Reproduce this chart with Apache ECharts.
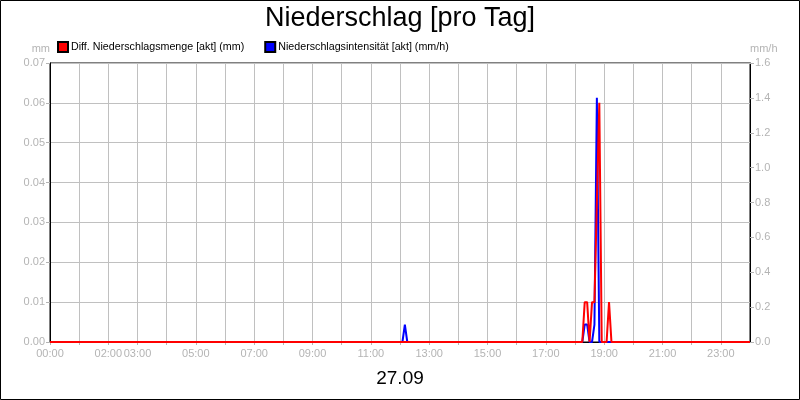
<!DOCTYPE html>
<html>
<head>
<meta charset="utf-8">
<script src="https://cdn.jsdelivr.net/npm/echarts@6/dist/echarts.min.js"></script>
<style>
  html, body { margin: 0; padding: 0; background: #fff; }
  #chart { width: 800px; height: 400px; }
</style>
</head>
<body>
<div id="chart"></div>
<script>
// Zeit in Minuten seit 00:00
const mengeData = [
  [0, 0], [1095, 0], [1100, 0.01], [1105, 0.01], [1110, 0], [1115, 0.01], [1120, 0.01],
  [1130, 0.06], [1135, 0], [1145, 0], [1150, 0.01], [1155, 0], [1440, 0]
]
const intensData = [
  [0, 0], [725, 0], [730, 0.1], [735, 0], [1095, 0], [1100, 0.1], [1105, 0.1], [1110, 0],
  [1115, 0], [1120, 0.1], [1125, 1.4], [1130, 0], [1440, 0]
]
// nur diese Stunden bekommen eine Beschriftung
const hourLabels = ['00:00', '02:00', '03:00', '05:00', '07:00', '09:00', '11:00',
  '13:00', '15:00', '17:00', '19:00', '21:00', '23:00']

const grey = '#b4b4b4'
const font = 'Liberation Sans'

const chart = echarts.init(document.getElementById('chart'), null, {renderer: 'canvas'})

chart.setOption({
  animation: false,
  backgroundColor: '#ffffff',
  textStyle: {fontFamily: font},
  title: [
    {
      text: 'Niederschlag [pro Tag]',
      left: 'center',
      top: 0,
      textStyle: {fontFamily: font, fontSize: 27, fontWeight: 'normal', color: '#000'},
    },
    {
      text: '27.09',
      left: 'center',
      top: 364,
      textStyle: {fontFamily: font, fontSize: 19, fontWeight: 'normal', color: '#000'},
    },
  ],
  /** Rahmen um das ganze Bild */
  graphic: [{
    type: 'rect',
    shape: {x: 0.5, y: 0.5, width: 799, height: 399},
    style: {fill: 'none', stroke: '#000', lineWidth: 1},
    silent: true,
  }],
  legend: {
    left: 52,
    top: 36,
    icon: 'rect',
    itemWidth: 10,
    itemHeight: 10,
    itemGap: 20,
    data: ['Diff. Niederschlagsmenge [akt] (mm)', 'Niederschlagsintensität [akt] (mm/h)'],
    textStyle: {fontFamily: font, fontSize: 10.7, color: '#000', padding: [0, 0, 0, -2]},
  },
  grid: {
    show: true,
    left: 50,
    right: 50,
    top: 63,
    bottom: 58,
    borderColor: '#000',
    borderWidth: 1,
  },
  xAxis: {
    type: 'value',
    min: 0,
    max: 1440,
    interval: 60,
    axisLine: {show: true, onZero: false, lineStyle: {color: '#000'}},
    axisTick: {show: true, length: 3, lineStyle: {color: grey}},
    axisLabel: {
      color: grey,
      fontSize: 11,
      margin: 6,
      showMaxLabel: false,
      formatter: function (v) {
        const h = String(Math.round(v / 60)).padStart(2, '0') + ':00'
        return hourLabels.includes(h) ? h : ''
      },
    },
    splitLine: {show: true, lineStyle: {color: '#c0c0c0'}},
  },
  yAxis: [
    /** linke Achse mm */
    {
      type: 'value',
      min: 0,
      max: 0.07,
      interval: 0.01,
      name: 'mm',
      nameLocation: 'end',
      nameGap: 9,
      nameTextStyle: {color: grey, fontSize: 11, align: 'right'},
      axisLine: {show: true, lineStyle: {color: '#000'}},
      axisTick: {show: true, length: 4, lineStyle: {color: grey}},
      axisLabel: {color: grey, fontSize: 11, margin: 5, formatter: v => v.toFixed(2)},
      splitLine: {show: true, lineStyle: {color: '#c0c0c0'}},
    },
    /** rechte Achse mm/h */
    {
      type: 'value',
      min: 0,
      max: 1.6,
      interval: 0.2,
      position: 'right',
      name: 'mm/h',
      nameLocation: 'end',
      nameGap: 9,
      nameTextStyle: {color: grey, fontSize: 11, align: 'left'},
      axisLine: {show: true, lineStyle: {color: '#000'}},
      axisTick: {show: true, length: 4, lineStyle: {color: grey}},
      axisLabel: {color: grey, fontSize: 11, margin: 5, formatter: v => v.toFixed(1)},
      splitLine: {show: false},
    },
  ],
  series: [
    {
      name: 'Diff. Niederschlagsmenge [akt] (mm)',
      type: 'line',
      yAxisIndex: 0,
      data: mengeData,
      showSymbol: false,
      z: 4,
      itemStyle: {color: '#ff0000', borderColor: '#000', borderWidth: 0.5},
      lineStyle: {color: '#ff0000', width: 2},
    },
    {
      name: 'Niederschlagsintensität [akt] (mm/h)',
      type: 'line',
      yAxisIndex: 1,
      data: intensData,
      showSymbol: false,
      z: 3,
      itemStyle: {color: '#0000ff', borderColor: '#000', borderWidth: 0.5},
      lineStyle: {color: '#0000ff', width: 2},
    },
  ],
})
</script>
</body>
</html>
